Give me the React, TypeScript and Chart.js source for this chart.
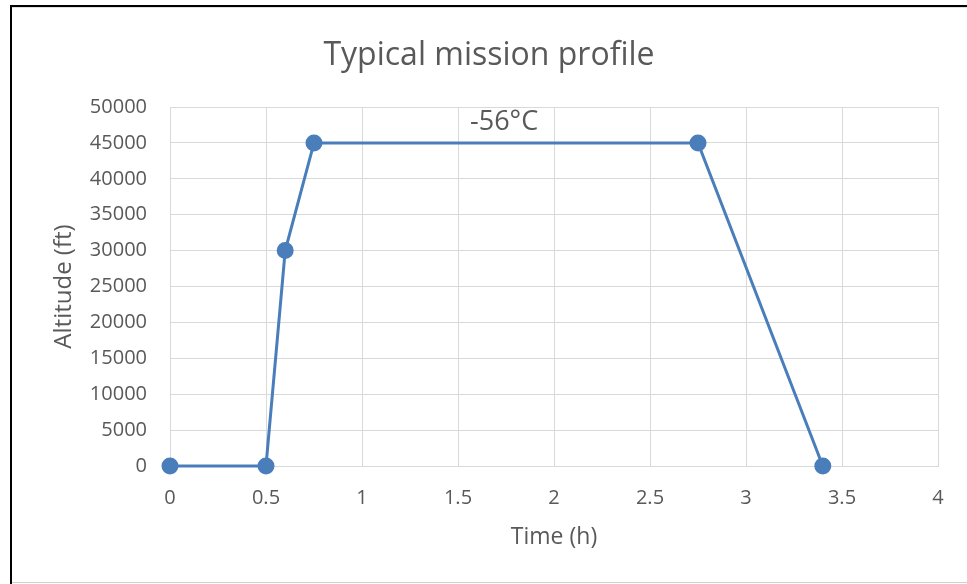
import React, { useEffect, useRef } from "react";
import { Chart, registerables } from "chart.js";

Chart.register(...registerables);

const chartTitle = "Typical mission profile";
const xAxisTitle = "Time (h)";
const yAxisTitle = "Altitude (ft)";
const timeHours = [0, 0.5, 0.6, 0.75, 2.75, 3.4];
const altitudeFt = [0, 0, 30000, 45000, 45000, 0];
const xTickValues = [0, 0.5, 1, 1.5, 2, 2.5, 3, 3.5, 4];
const yTickValues = [0, 5000, 10000, 15000, 20000, 25000, 30000, 35000, 40000, 45000, 50000];
const noteText = "-56°C";
const noteX = 1.74;
const noteY = 47800;

const FONT = "'Open Sans', sans-serif";
const TEXT = "#595959";
const GRID = "#d9d9d9";
const LINE = "#4a7ebb";

const notePlugin = {
  id: "notePlugin",
  afterDatasetsDraw(chart: any) {
    const { ctx, scales } = chart;
    const x = scales.x.getPixelForValue(noteX);
    const y = scales.y.getPixelForValue(noteY);
    ctx.save();
    ctx.font = `27px ${FONT}`;
    ctx.fillStyle = TEXT;
    ctx.textAlign = "center";
    ctx.textBaseline = "middle";
    ctx.fillText(noteText, x, y);
    ctx.restore();
  },
};

export default function App() {
  const ref = useRef<HTMLCanvasElement | null>(null);
  useEffect(() => {
    if (!ref.current) return;
    const chart = new Chart(ref.current, {
      type: "line",
      data: {
        datasets: [
          {
            data: timeHours.map((t, i) => ({ x: t, y: altitudeFt[i] })),
            borderColor: LINE,
            backgroundColor: LINE,
            borderWidth: 3,
            pointRadius: 7,
            pointHoverRadius: 7,
            pointBackgroundColor: LINE,
            pointBorderColor: LINE,
            tension: 0,
            clip: false,
          },
        ],
      },
      options: {
        animation: false,
        responsive: false,
        layout: { padding: { left: 40, right: 29, top: 0, bottom: 0 } },
        plugins: {
          legend: { display: false },
          tooltip: { enabled: false },
          title: {
            display: true,
            text: chartTitle,
            color: TEXT,
            font: { family: FONT, size: 32, weight: "normal", lineHeight: 1.2 },
            padding: { top: 37, bottom: 31.6 },
          },
        },
        scales: {
          x: {
            type: "linear",
            min: 0,
            max: 4,
            afterBuildTicks(scale: any) {
              scale.ticks = xTickValues.map((v) => ({ value: v }));
            },
            afterFit(scale: any) {
              scale.height = 118;
            },
            grid: { color: GRID, lineWidth: 1, drawTicks: false },
            border: { color: GRID, width: 1 },
            ticks: {
              color: TEXT,
              font: { family: FONT, size: 20 },
              padding: 20,
              maxRotation: 0,
              callback: (v: any) => String(v),
            },
            title: {
              display: true,
              text: xAxisTitle,
              color: TEXT,
              font: { family: FONT, size: 23, lineHeight: 1.2 },
              padding: { top: 0, bottom: 33 },
            },
          },
          y: {
            type: "linear",
            min: 0,
            max: 50000,
            afterBuildTicks(scale: any) {
              scale.ticks = yTickValues.map((v) => ({ value: v }));
            },
            afterFit(scale: any) {
              scale.width = 130;
            },
            grid: { color: GRID, lineWidth: 1, drawTicks: false },
            border: { color: GRID, width: 1 },
            ticks: {
              color: TEXT,
              font: { family: FONT, size: 20 },
              padding: 23,
              callback: (v: any) => String(v),
            },
            title: {
              display: true,
              text: yAxisTitle,
              color: TEXT,
              font: { family: FONT, size: 24, lineHeight: 1.2 },
              padding: { top: 10, bottom: 0 },
            },
          },
        },
      },
      plugins: [notePlugin],
    } as any);
    return () => chart.destroy();
  }, []);

  return (
    <div style={{ position: "fixed", left: 0, top: 0, width: 967, height: 584, background: "#fff" }}>
      <canvas ref={ref} width={967} height={584} style={{ position: "absolute", left: 0, top: 0 }} />
      <div style={{ position: "absolute", left: 10, top: 5, width: 957, height: 2, background: "#000" }} />
      <div style={{ position: "absolute", left: 10, top: 7, width: 957, height: 1, background: "#e0e0e0" }} />
      <div style={{ position: "absolute", left: 10, top: 5, width: 2, height: 579, background: "#000" }} />
      <div style={{ position: "absolute", left: 12, top: 582, width: 955, height: 1, background: "#d0d0d0" }} />
    </div>
  );
}
